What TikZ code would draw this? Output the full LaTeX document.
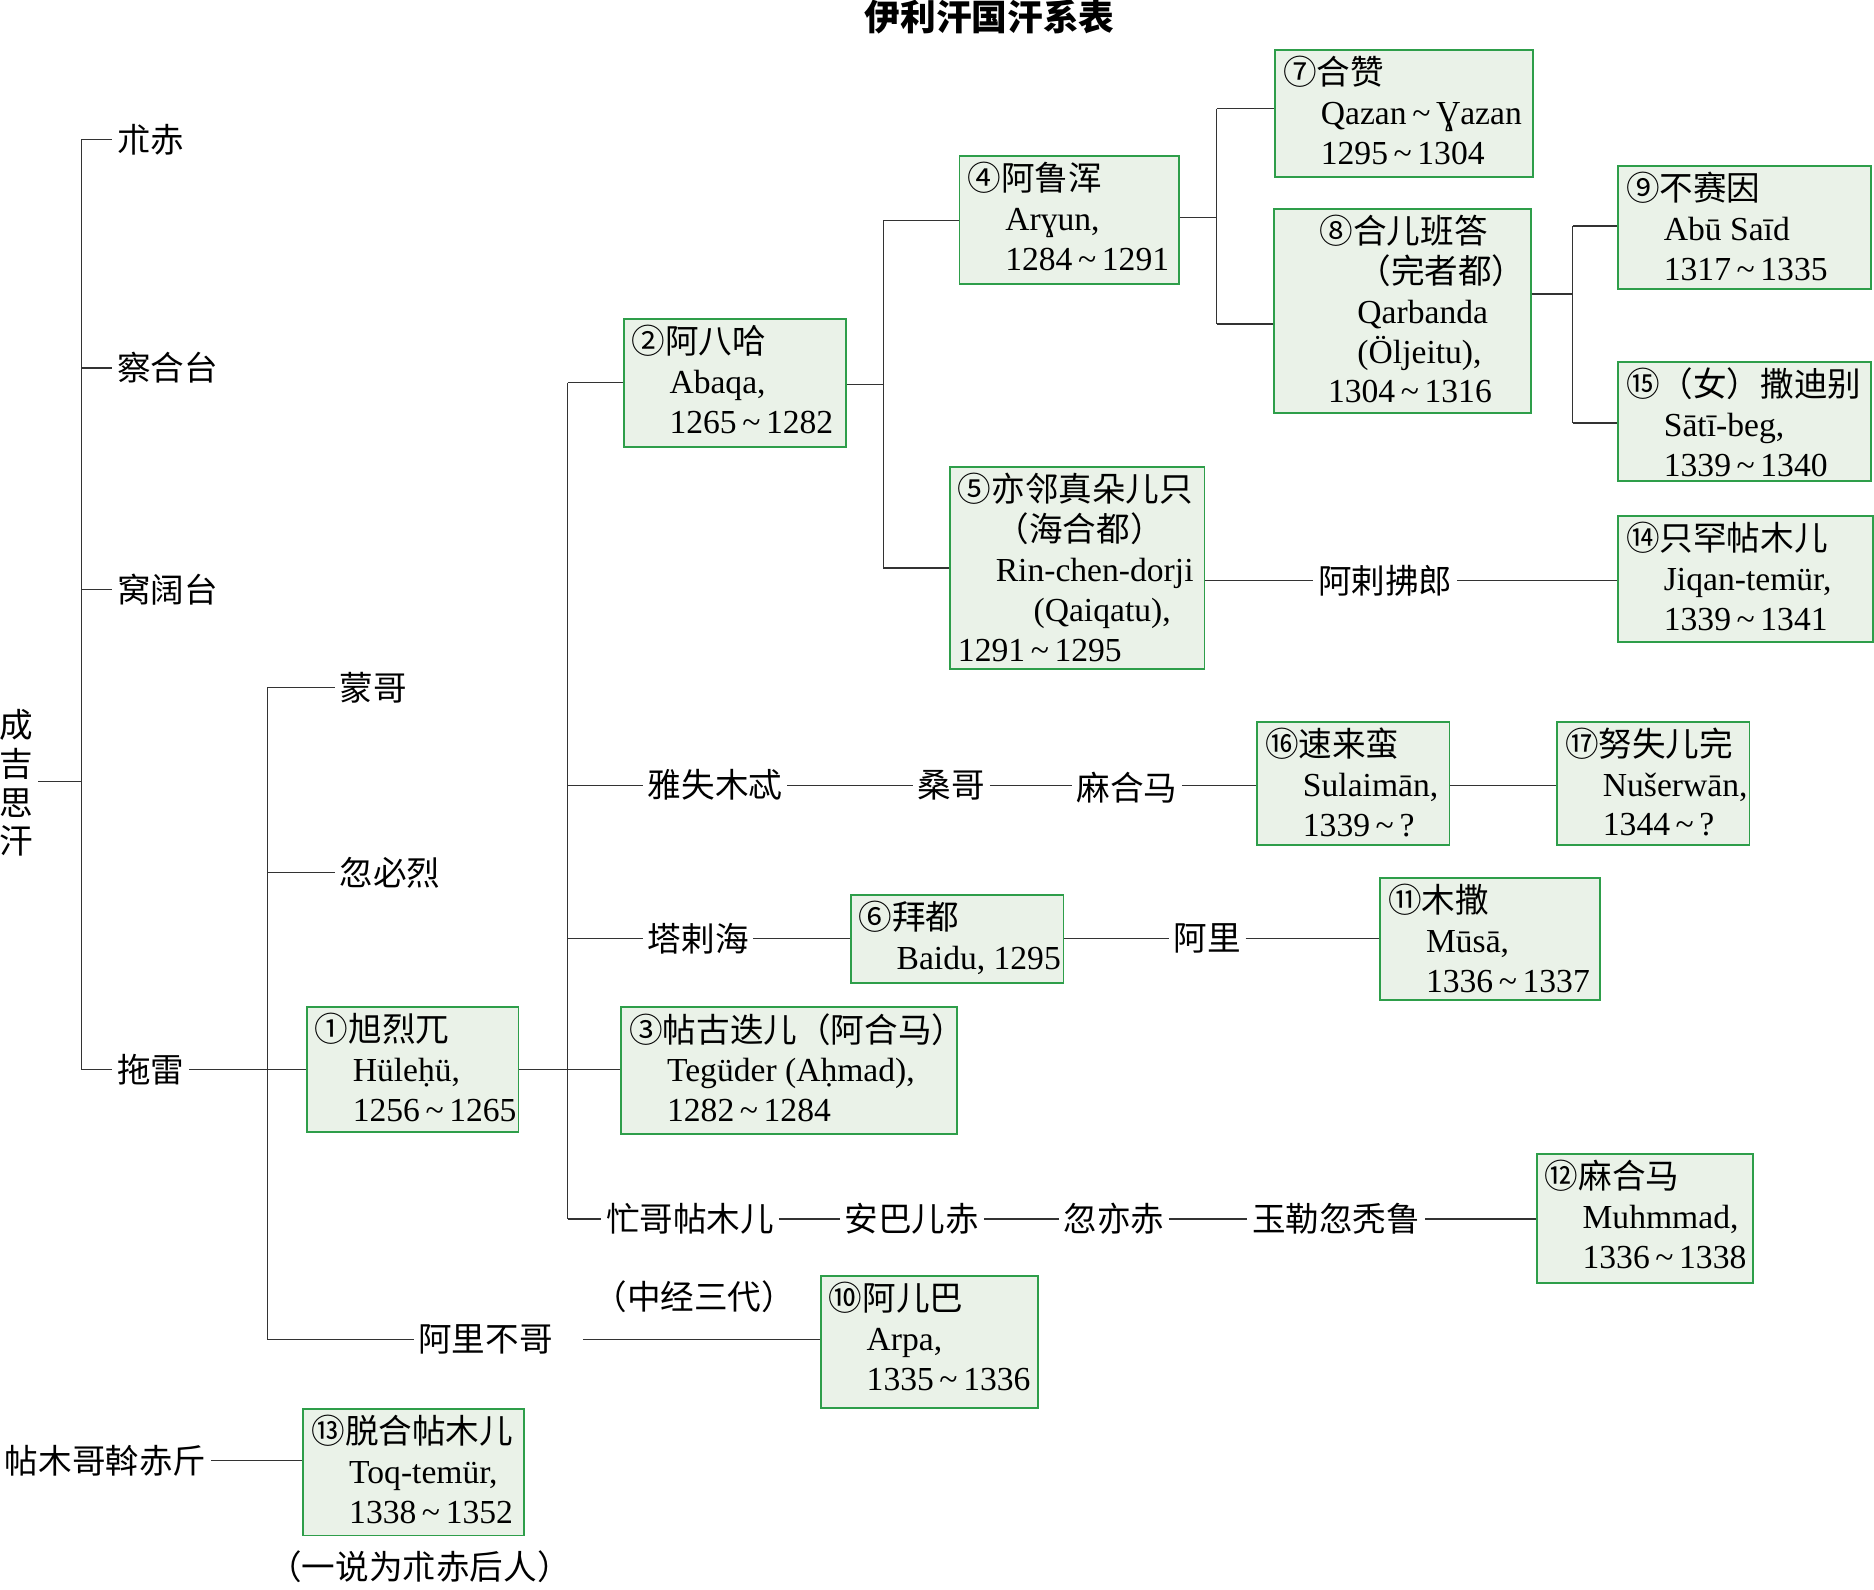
\documentclass[tikz,border=0pt]{standalone}
\usepackage{fontspec}
\setmainfont{Liberation Serif}
\newfontfamily\cjk{Noto Sans CJK SC}
\usepackage{tikz}

\definecolor{boxfill}{HTML}{EAF2E8}
\definecolor{boxline}{HTML}{2E9E4A}
\tikzset{
  txt/.style={font=\fontsize{16pt}{19pt}\selectfont\cjk, inner sep=2pt},
  box/.style={draw=boxline, fill=boxfill, line width=0.9pt, inner sep=0pt, anchor=north west},
  body/.style={font=\fontsize{16pt}{19pt}\selectfont, align=left, anchor=north west, inner sep=0pt},
}
% box: name, x1, y1, x2, y2, text
\newcommand{\gbox}[6]{%
  \node[box, minimum width={(#4-#2)*0.02cm}, minimum height={(#5-#3)*0.02cm}] (#1) at (#2,#3) {};
  \node[body] at ([shift={(4pt,-3pt)}]#1.north west) {#6};}
\newcommand{\ind}{\hspace*{18pt}}
\newcommand{\tl}{\,\textasciitilde\,}

\begin{document}
\begin{tikzpicture}[x=0.02cm, y=-0.02cm, line width=0.6pt, draw=black!80]
    \useasboundingbox (0,0) rectangle (1568,1330);
    \node[font=\fontsize{17pt}{20pt}\selectfont\cjk\bfseries] (title) at (828,14) {伊利汗国汗系表};

    % names without boxes
    \node[txt, align=center, font=\fontsize{16pt}{18.5pt}\selectfont\cjk] (cjs) at (14,655) {成\\吉\\思\\汗};
    \node[txt, anchor=west] (zhuchi) at (94,117) {朮赤};
    \node[txt, anchor=west] (chahetai) at (94,308) {察合台};
    \node[txt, anchor=west] (wokuotai) at (94,493) {窝阔台};
    \node[txt, anchor=west] (tuolei) at (94,895) {拖雷};
    \node[txt, anchor=west] (mengge) at (280,575) {蒙哥};
    \node[txt, anchor=west] (hubilie) at (280,730) {忽必烈};
    \node[txt, anchor=west] (alibuge) at (346,1121) {阿里不哥};
    \node[txt, anchor=west] (ysmt) at (538,657) {雅失木忒};
    \node[txt] (sangge) at (796,657) {桑哥};
    \node[txt] (maheima) at (943,659) {麻合马};
    \node[txt, anchor=west] (talahai) at (538,785) {塔剌海};
    \node[txt] (ali) at (1010,785) {阿里};
    \node[txt, anchor=west] (mgtmr) at (503,1020) {忙哥帖木儿};
    \node[txt] (abechi) at (763,1020) {安巴儿赤};
    \node[txt] (huyichi) at (932,1020) {忽亦赤};
    \node[txt] (ylhtl) at (1118,1020) {玉勒忽秃鲁};
    \node[txt] (alfl) at (1159,486) {阿剌拂郎};
    \node[txt, anchor=west] (tmgwcj) at (0,1222) {帖木哥斡赤斤};
    \node[txt] (zjsd) at (581,1085) {（中经三代）};
    \node[txt] (yishuo) at (351,1311) {（一说为朮赤后人）};

    % boxes
    \gbox{k1}{256}{842}{433}{946}{{\cjk ①旭烈兀}\\\ind Hüleḥü,\\\ind 1256\tl 1265}
    \gbox{k2}{521}{266}{707}{373}{{\cjk ②阿八哈}\\\ind Abaqa,\\\ind 1265\tl 1282}
    \gbox{k3}{519}{842}{800}{948}{{\cjk ③帖古迭儿（阿合马）}\\\ind Tegüder (Aḥmad),\\\ind 1282\tl 1284}
    \gbox{k4}{802}{130}{986}{237}{{\cjk ④阿鲁浑}\\\ind Arɣun,\\\ind 1284\tl 1291}
    \gbox{k5}{794}{390}{1007}{559}{{\cjk ⑤亦邻真朵儿只}\\\ind{\cjk （海合都）}\\\ind Rin-chen-dorji\\\ind\ind (Qaiqatu),\\1291\tl 1295}
    \gbox{k6}{711}{748}{889}{822}{{\cjk ⑥拜都}\\\ind Baidu, 1295}
    \gbox{k7}{1066}{41}{1282}{147}{{\cjk ⑦合赞}\\\ind Qazan\tl Ɣazan\\\ind 1295\tl 1304}
    \gbox{k8}{1065}{174}{1280}{345}{\ind{\cjk ⑧合儿班答}\\\ind\ind{\cjk （完者都）}\\\ind\ind Qarbanda\\\ind\ind(Öljeitu),\\\ind\ 1304\tl 1316}
    \gbox{k9}{1353}{138}{1565}{241}{{\cjk ⑨不赛因}\\\ind Abū Saīd\\\ind 1317\tl 1335}
    \gbox{k10}{686}{1067}{868}{1177}{{\cjk ⑩阿儿巴}\\\ind Arpa,\\\ind 1335\tl 1336}
    \gbox{k11}{1154}{734}{1338}{836}{{\cjk ⑪木撒}\\\ind Mūsā,\\\ind 1336\tl 1337}
    \gbox{k12}{1285}{965}{1466}{1073}{{\cjk ⑫麻合马}\\\ind Muhmmad,\\\ind 1336\tl 1338}
    \gbox{k13}{253}{1178}{438}{1284}{{\cjk ⑬脱合帖木儿}\\\ind Toq-temür,\\\ind 1338\tl 1352}
    \gbox{k14}{1353}{431}{1566}{536}{{\cjk ⑭只罕帖木儿}\\\ind Jiqan-temür,\\\ind 1339\tl 1341}
    \gbox{k15}{1353}{302}{1565}{402}{{\cjk ⑮（女）撒迪别}\\\ind Sātī-beg,\\\ind 1339\tl 1340}
    \gbox{k16}{1051}{603}{1212}{706}{{\cjk ⑯速来蛮}\\\ind Sulaimān,\\\ind 1339\tl ?}
    \gbox{k17}{1302}{603}{1463}{706}{{\cjk ⑰努失儿完}\\\ind Nušerwān,\\\ind 1344\tl ?}

    % trunks
    \coordinate (t0) at (68,654);
    \draw (cjs.east |- t0) -- (t0);
    \draw (t0 |- zhuchi.west) -- (t0 |- tuolei.west);
    \foreach \n in {zhuchi,chahetai,wokuotai,tuolei} \draw (t0 |- \n.west) -- (\n.west);
    \coordinate (t1) at (224,895);
    \draw (t1 |- mengge.west) -- (t1 |- alibuge.west);
    \draw (tuolei.east) -- (k1.west |- tuolei.east);
    \foreach \n in {mengge,hubilie,alibuge} \draw (t1 |- \n.west) -- (\n.west);
    \coordinate (t2) at (475,895);
    \draw (k1.east |- t2) -- (k3.west |- t2);
    \draw (t2 |- k2.west) -- (t2 |- mgtmr.west);
    \foreach \n in {k2,ysmt,talahai,mgtmr} \draw (t2 |- \n.west) -- (\n.west);
    \coordinate (t3) at (739,322);
    \draw (k2.east |- t3) -- (t3);
    \draw (t3 |- k4.west) -- (t3 |- k5.west);
    \foreach \n in {k4,k5} \draw (t3 |- \n.west) -- (\n.west);
    \coordinate (t4) at (1018,182);
    \draw (k4.east |- t4) -- (t4);
    \draw (t4 |- 0,91) -- (t4 |- 0,271);
    \draw (t4 |- 0,91) -- (k7.west |- 0,91);
    \draw (t4 |- 0,271) -- (k8.west |- 0,271);
    \coordinate (t5) at (1316,246);
    \draw (k8.east |- t5) -- (t5);
    \draw (t5 |- 0,189) -- (t5 |- 0,354);
    \draw (t5 |- 0,189) -- (k9.west |- 0,189);
    \draw (t5 |- 0,354) -- (k15.west |- 0,354);

    % rows
    \draw (k5.east |- alfl) -- (alfl.west);
    \draw (alfl.east) -- (k14.west |- alfl);
    \draw (ysmt.east) -- (sangge.west);
    \draw (sangge.east) -- (maheima.west |- sangge);
    \draw (maheima.east |- sangge) -- (k16.west |- sangge);
    \draw (k16.east |- sangge) -- (k17.west |- sangge);
    \draw (talahai.east) -- (k6.west |- talahai);
    \draw (k6.east |- ali) -- (ali.west);
    \draw (ali.east) -- (k11.west |- ali);
    \draw (mgtmr.east) -- (abechi.west);
    \draw (abechi.east) -- (huyichi.west);
    \draw (huyichi.east) -- (ylhtl.west);
    \draw (ylhtl.east) -- (k12.west |- ylhtl);
    \draw ([xshift=12pt]alibuge.east) -- (k10.west |- alibuge);
    \draw (tmgwcj.east) -- (k13.west |- tmgwcj);
\end{tikzpicture}
\end{document}
